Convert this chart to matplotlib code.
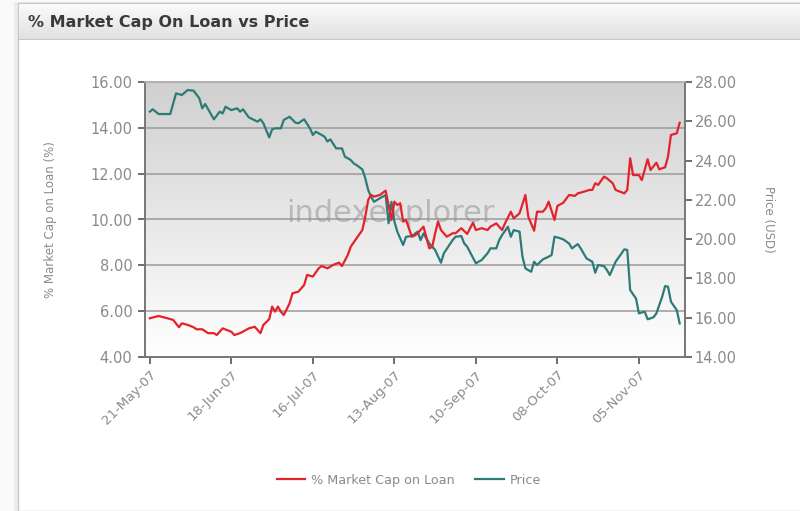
import matplotlib
matplotlib.use("Agg")
import matplotlib.pyplot as plt
import matplotlib.dates as mdates
import matplotlib.patches as mpatches
import numpy as np
import pandas as pd

title = "% Market Cap On Loan vs Price"
loan_label = "% Market Cap on Loan"
price_label = "Price"
left_axis_label = "% Market Cap on Loan (%)"
right_axis_label = "Price (USD)"
watermark = "indexexplorer"

loan_dates = [
    "2007-05-21", "2007-05-24", "2007-05-27", "2007-05-29", "2007-05-31",
    "2007-06-01", "2007-06-03", "2007-06-05", "2007-06-06", "2007-06-08",
    "2007-06-10", "2007-06-12", "2007-06-13", "2007-06-15", "2007-06-17",
    "2007-06-18", "2007-06-19", "2007-06-21", "2007-06-23", "2007-06-24",
    "2007-06-26", "2007-06-28", "2007-06-29", "2007-07-01", "2007-07-02",
    "2007-07-03", "2007-07-04", "2007-07-05", "2007-07-06", "2007-07-08",
    "2007-07-09", "2007-07-11", "2007-07-13", "2007-07-14", "2007-07-16",
    "2007-07-18", "2007-07-19", "2007-07-21", "2007-07-23", "2007-07-25",
    "2007-07-26", "2007-07-28", "2007-07-29", "2007-07-31", "2007-08-02",
    "2007-08-03", "2007-08-04", "2007-08-05", "2007-08-06", "2007-08-08",
    "2007-08-10", "2007-08-11", "2007-08-12", "2007-08-13", "2007-08-14",
    "2007-08-15", "2007-08-16", "2007-08-17", "2007-08-19", "2007-08-20",
    "2007-08-21", "2007-08-23", "2007-08-25", "2007-08-26", "2007-08-27",
    "2007-08-28", "2007-08-29", "2007-08-31", "2007-09-02", "2007-09-03",
    "2007-09-05", "2007-09-07", "2007-09-09", "2007-09-10", "2007-09-12",
    "2007-09-14", "2007-09-15", "2007-09-17", "2007-09-19", "2007-09-20",
    "2007-09-22", "2007-09-23", "2007-09-25", "2007-09-27", "2007-09-28",
    "2007-09-30", "2007-10-01", "2007-10-03", "2007-10-04", "2007-10-05",
    "2007-10-07", "2007-10-08", "2007-10-10", "2007-10-12", "2007-10-14",
    "2007-10-15", "2007-10-17", "2007-10-19", "2007-10-20", "2007-10-21",
    "2007-10-22", "2007-10-24", "2007-10-25", "2007-10-27", "2007-10-28",
    "2007-10-31", "2007-11-01", "2007-11-02", "2007-11-03", "2007-11-05",
    "2007-11-06", "2007-11-08", "2007-11-09", "2007-11-11", "2007-11-12",
    "2007-11-14", "2007-11-15", "2007-11-16", "2007-11-18", "2007-11-19",
]
loan_values = [
    5.69, 5.79, 5.69, 5.62, 5.30,
    5.47, 5.40, 5.30, 5.21, 5.21,
    5.04, 5.04, 4.96, 5.25, 5.15,
    5.10, 4.96, 5.04, 5.18, 5.25,
    5.32, 5.04, 5.40, 5.65, 6.20,
    5.98, 6.20, 5.98, 5.83, 6.34,
    6.78, 6.85, 7.14, 7.58, 7.51,
    7.87, 7.97, 7.87, 8.02, 8.12,
    7.97, 8.45, 8.81, 9.18, 9.54,
    10.12, 10.85, 11.07, 11.00, 11.07,
    11.26, 10.63, 9.98, 10.78, 10.63,
    10.71, 9.91, 9.98, 9.25, 9.30,
    9.40, 9.69, 8.74, 8.81, 9.40,
    9.91, 9.54, 9.25, 9.40, 9.40,
    9.62, 9.37, 9.86, 9.54, 9.62,
    9.54, 9.69, 9.83, 9.54, 9.83,
    10.34, 10.05, 10.27, 11.07, 10.12,
    9.51, 10.34, 10.34, 10.49, 10.78,
    9.98, 10.59, 10.73, 11.07, 11.03,
    11.14, 11.21, 11.29, 11.29, 11.58,
    11.51, 11.87, 11.80, 11.58, 11.29,
    11.14, 11.29, 12.67, 11.94, 11.94,
    11.72, 12.63, 12.16, 12.48, 12.19,
    12.28, 12.74, 13.69, 13.76, 14.22,
]

price_dates = [
    "2007-05-21", "2007-05-22", "2007-05-24", "2007-05-28", "2007-05-30",
    "2007-06-01", "2007-06-03", "2007-06-05", "2007-06-07", "2007-06-08",
    "2007-06-09", "2007-06-12", "2007-06-14", "2007-06-15", "2007-06-16",
    "2007-06-18", "2007-06-20", "2007-06-21", "2007-06-22", "2007-06-24",
    "2007-06-27", "2007-06-28", "2007-06-29", "2007-07-01", "2007-07-02",
    "2007-07-03", "2007-07-05", "2007-07-06", "2007-07-08", "2007-07-10",
    "2007-07-11", "2007-07-13", "2007-07-15", "2007-07-16", "2007-07-17",
    "2007-07-20", "2007-07-21", "2007-07-22", "2007-07-24", "2007-07-26",
    "2007-07-27", "2007-07-29", "2007-07-30", "2007-07-31", "2007-08-02",
    "2007-08-03", "2007-08-04", "2007-08-05", "2007-08-06", "2007-08-08",
    "2007-08-10", "2007-08-11", "2007-08-12", "2007-08-13", "2007-08-14",
    "2007-08-16", "2007-08-17", "2007-08-19", "2007-08-21", "2007-08-22",
    "2007-08-23", "2007-08-25", "2007-08-27", "2007-08-29", "2007-08-30",
    "2007-09-02", "2007-09-03", "2007-09-05", "2007-09-06", "2007-09-07",
    "2007-09-10", "2007-09-12", "2007-09-14", "2007-09-15", "2007-09-17",
    "2007-09-18", "2007-09-19", "2007-09-21", "2007-09-22", "2007-09-23",
    "2007-09-25", "2007-09-26", "2007-09-27", "2007-09-29", "2007-09-30",
    "2007-10-01", "2007-10-03", "2007-10-05", "2007-10-06", "2007-10-07",
    "2007-10-08", "2007-10-10", "2007-10-12", "2007-10-13", "2007-10-15",
    "2007-10-16", "2007-10-18", "2007-10-20", "2007-10-21", "2007-10-22",
    "2007-10-24", "2007-10-25", "2007-10-26", "2007-10-28", "2007-10-31",
    "2007-11-01", "2007-11-02", "2007-11-04", "2007-11-05", "2007-11-07",
    "2007-11-08", "2007-11-10", "2007-11-11", "2007-11-13", "2007-11-14",
    "2007-11-15", "2007-11-16", "2007-11-18", "2007-11-19",
]
price_values = [
    26.49, 26.61, 26.37, 26.37, 27.42,
    27.34, 27.59, 27.56, 27.17, 26.66,
    26.88, 26.10, 26.49, 26.40, 26.74,
    26.57, 26.66, 26.49, 26.61, 26.20,
    25.98, 26.10, 25.90, 25.18, 25.59,
    25.64, 25.64, 26.07, 26.23, 25.93,
    25.90, 26.10, 25.64, 25.30, 25.47,
    25.22, 24.97, 25.08, 24.62, 24.62,
    24.20, 24.03, 23.86, 23.77, 23.55,
    23.10, 22.50, 22.16, 21.90, 22.08,
    22.25, 20.81, 21.90, 20.90, 20.38,
    19.70, 20.12, 20.16, 20.38, 19.95,
    20.29, 19.78, 19.45, 18.80, 19.28,
    19.95, 20.12, 20.16, 19.78, 19.62,
    18.77, 18.94, 19.28, 19.53, 19.53,
    19.95, 20.21, 20.63, 20.12, 20.46,
    20.38, 19.11, 18.51, 18.34, 18.85,
    18.68, 18.97, 19.11, 19.19, 20.12,
    20.09, 19.99, 19.78, 19.53, 19.75,
    19.53, 19.02, 18.85, 18.29, 18.68,
    18.63, 18.43, 18.17, 18.85, 19.48,
    19.45, 17.41, 16.98, 16.22, 16.31,
    15.92, 16.02, 16.22, 17.07, 17.61,
    17.58, 16.82, 16.39, 15.71,
]

x_tick_dates = ["2007-05-21", "2007-06-18", "2007-07-16", "2007-08-13",
                "2007-09-10", "2007-10-08", "2007-11-05"]
x_start = "2007-05-19 08:00"
x_end = "2007-11-20 20:00"
left_ticks = [4, 6, 8, 10, 12, 14, 16]
right_ticks = [14, 16, 18, 20, 22, 24, 26, 28]

RED = "#e4222b"
TEAL = "#2b7b79"
GREY_TXT = "#8a8a8a"

W, H = 800, 511
fig = plt.figure(figsize=(W / 100, H / 100), dpi=100)
fig.patch.set_facecolor("#fafafa")

def fx(px):
    return px / W

def fy(py):
    return 1 - py / H

# panel shadow & body
fig.patches.append(mpatches.Rectangle((fx(14), 0), 1, fy(2), transform=fig.transFigure,
                                      facecolor="#ececec", edgecolor="none", zorder=-20))
fig.patches.append(mpatches.Rectangle((fx(18), 0), 1, fy(3), transform=fig.transFigure,
                                      facecolor="white", edgecolor="#c8c8c8", lw=1, zorder=-19))
# header gradient
hdr = fig.add_axes([fx(19), fy(40), 1 - fx(19), (40 - 4) / H], zorder=-10)
grad = np.linspace(0, 1, 64).reshape(-1, 1)
hdr.imshow(grad, aspect="auto", cmap=matplotlib.colors.LinearSegmentedColormap.from_list(
    "h", ["#fbfbfb", "#e0e0e0"]), extent=[0, 1, 0, 1], origin="upper")
hdr.set_axis_off()
hdr.axhline(0, color="#c4c4c4", lw=1.2)
fig.text(fx(28), fy(22), title, fontsize=11.5, color="#3a3a3a", fontweight="semibold",
         va="center", ha="left", family="DejaVu Sans")

pos = [fx(145), fy(357), (685 - 145) / W, (357 - 82) / H]

# background gradient + grid in its own axes (lowest)
bgax = fig.add_axes(pos, zorder=-5)
bg = np.linspace(0, 1, 128).reshape(-1, 1)
bgax.imshow(bg, aspect="auto", extent=[0, 1, 4, 16], origin="upper",
            cmap=matplotlib.colors.LinearSegmentedColormap.from_list(
                "b", ["#d0d0d0", "#ffffff"]), zorder=0)
bgax.set_xlim(0, 1)
bgax.set_ylim(4, 16)
for v in left_ticks[1:-1]:
    bgax.axhline(v, color="#9a9a9a", lw=1.1, zorder=1)
bgax.set_axis_off()
bgax.text(0.455, 10.25, watermark, fontsize=22, color="#8c8c8c",
          alpha=0.5, ha="center", va="center", zorder=2)

ax2 = fig.add_axes(pos, zorder=0)
ax2.patch.set_visible(False)
ax2.yaxis.tick_right()
ax2.yaxis.set_label_position("right")
ax2.xaxis.set_visible(False)

ax = fig.add_axes(pos, zorder=1)
ax.patch.set_visible(False)

ld = pd.to_datetime(loan_dates)
pdts = pd.to_datetime(price_dates)

l2, = ax2.plot(pdts, price_values, color=TEAL, lw=1.6, zorder=3, label=price_label)
l1, = ax.plot(ld, loan_values, color=RED, lw=1.6, zorder=4, label=loan_label)

ax.set_ylim(4, 16)
ax.set_yticks(left_ticks)
ax.set_yticklabels([f"{v:.2f}" for v in left_ticks])
ax2.set_ylim(14, 28)
ax2.set_yticks(right_ticks)
ax2.set_yticklabels([f"{v:.2f}" for v in right_ticks])

ax2.set_xlim(pd.Timestamp(x_start), pd.Timestamp(x_end))
ax.set_xlim(pd.Timestamp(x_start), pd.Timestamp(x_end))

ax.set_xticks(pd.to_datetime(x_tick_dates))
ax.xaxis.set_major_formatter(mdates.DateFormatter("%d-%b-%y"))
for lab in ax.get_xticklabels():
    lab.set_rotation(45)
    lab.set_ha("right")
    lab.set_rotation_mode("anchor")

for a in (ax, ax2):
    a.tick_params(colors="#555555", labelcolor=GREY_TXT, length=5, width=1.2, direction="out")
    for s in a.spines.values():
        s.set_color("#777777")
        s.set_linewidth(1.2)
    a.spines["top"].set_color("#b0b0b0")
ax.tick_params(axis="y", labelsize=10.5, pad=4)
ax2.tick_params(axis="y", labelsize=10.5, pad=2)
ax.tick_params(axis="x", labelsize=9.5, pad=3)

ax.set_ylabel(left_axis_label, color=GREY_TXT, fontsize=8.5)
ax.yaxis.set_label_coords((57 - 145) / 540, 0.5)
ax2.set_ylabel(right_axis_label, color=GREY_TXT, fontsize=8.5, rotation=-90, va="center")
ax2.yaxis.set_label_coords((768 - 145) / 540, 0.5)

fig.legend([l1, l2], [loan_label, price_label], loc="center", ncol=2,
           bbox_to_anchor=(fx(409), fy(480)), frameon=False, fontsize=9.2,
           labelcolor=GREY_TXT, handlelength=2.2, columnspacing=1.6, handletextpad=0.5)

fig.savefig("out.png", dpi=100, facecolor=fig.get_facecolor())
